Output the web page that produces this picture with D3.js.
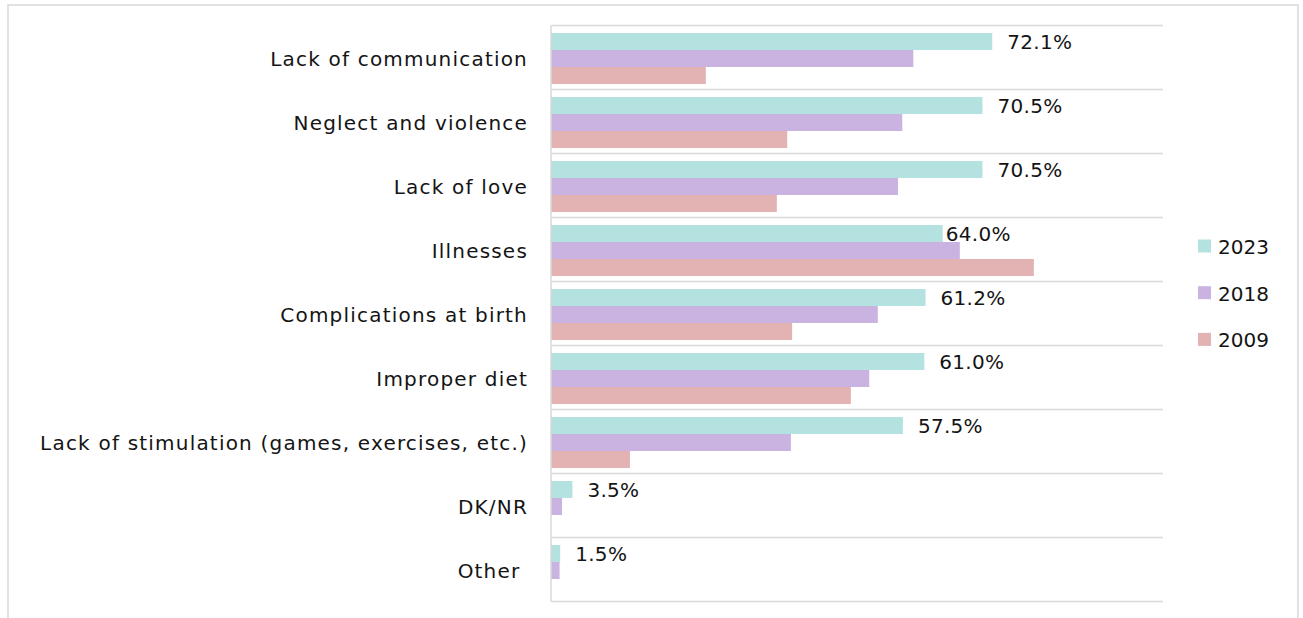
<!DOCTYPE html>
<html>
<head>
<meta charset="utf-8">
<script src="https://cdn.jsdelivr.net/npm/d3@7"></script>
<style>
  html, body { margin: 0; padding: 0; background: #fff; }
  svg { display: block; }
  text { font-family: "DejaVu Sans", sans-serif; fill: #141414; }
</style>
</head>
<body>
<svg id="chart" width="1303" height="618"></svg>
<script>
// ---- data ----
const categories = [
  "Lack of communication",
  "Neglect and violence",
  "Lack of love",
  "Illnesses",
  "Complications at birth",
  "Improper diet",
  "Lack of stimulation (games, exercises, etc.)",
  "DK/NR",
  "Other "
];
const seriesNames = ["2023", "2018", "2009"];
const values2023 = [72.1, 70.5, 70.5, 64.0, 61.2, 61.0, 57.5, 3.5, 1.5];
const values2018 = [59.2, 57.4, 56.7, 66.8, 53.4, 52.0, 39.2, 1.8, 1.4];
const values2009 = [25.3, 38.6, 36.9, 78.9, 39.4, 49.0, 12.9, 0, 0];
const labels2023 = ["72.1%", "70.5%", "70.5%", "64.0%", "61.2%", "61.0%", "57.5%", "3.5%", "1.5%"];

// ---- styles ----
const colors = { "2023": "#b3e2e0", "2018": "#cab3e1", "2009": "#e3b3b3" };
const gridColor = "#d9d9d9";
const labelDx = { "Illnesses": 3 };

const svg = d3.select("#chart");

// outer frame
svg.append("rect")
  .attr("x", 8).attr("y", 5).attr("width", 1290).attr("height", 640)
  .attr("fill", "none").attr("stroke", gridColor).attr("stroke-width", 1.5);

const x = d3.scaleLinear().domain([0, 100]).range([551, 1163]);
const y = d3.scaleBand().domain(categories).range([25.5, 601.5]).paddingInner(0).paddingOuter(0);
const ySub = d3.scaleBand().domain(seriesNames).range([7.5, 58.5]).padding(0);

const seriesValues = { "2023": values2023, "2018": values2018, "2009": values2009 };

// gridlines at band boundaries
const bounds = categories.map(c => y(c)).concat([y(categories[categories.length - 1]) + y.bandwidth()]);
svg.append("g").selectAll("line").data(bounds).join("line")
  .attr("x1", x(0)).attr("x2", x(100))
  .attr("y1", d => d).attr("y2", d => d)
  .attr("stroke", gridColor).attr("stroke-width", 1.5);

// bars
const rows = [];
categories.forEach((c, i) => {
  seriesNames.forEach(s => {
    const v = seriesValues[s][i];
    if (v > 0) rows.push({ c, s, v });
  });
});
svg.append("g").selectAll("rect").data(rows).join("rect")
  .attr("x", x(0))
  .attr("y", d => y(d.c) + ySub(d.s))
  .attr("width", d => x(d.v) - x(0))
  .attr("height", ySub.bandwidth())
  .attr("fill", d => colors[d.s]);

// left axis line
svg.append("line")
  .attr("x1", x(0)).attr("x2", x(0))
  .attr("y1", bounds[0]).attr("y2", bounds[bounds.length - 1])
  .attr("stroke", gridColor).attr("stroke-width", 1.5);

// category labels
svg.append("g").selectAll("text").data(categories).join("text")
  .attr("x", x(0) - 23)
  .attr("y", d => y(d) + y.bandwidth() / 2 + 8.5)
  .attr("text-anchor", "end")
  .style("white-space", "pre")
  .attr("font-size", 20)
  .attr("letter-spacing", 1.2)
  .text(d => d);

// value labels (2023)
svg.append("g").selectAll("text").data(categories).join("text")
  .attr("x", (d, i) => x(values2023[i]) + (labelDx[d] !== undefined ? labelDx[d] : 15))
  .attr("y", d => y(d) + ySub("2023") + ySub.bandwidth() / 2 + 7)
  .attr("font-size", 20)
  .attr("letter-spacing", 0.3)
  .text((d, i) => labels2023[i]);

// legend
const legend = svg.append("g").selectAll("g").data(seriesNames).join("g")
  .attr("transform", (d, i) => `translate(1198, ${239.5 + i * 46.7})`);
legend.append("rect")
  .attr("width", 13).attr("height", 13)
  .attr("fill", d => colors[d]);
legend.append("text")
  .attr("x", 20).attr("y", 14.5)
  .attr("font-size", 20)
  .text(d => d);
</script>
</body>
</html>
